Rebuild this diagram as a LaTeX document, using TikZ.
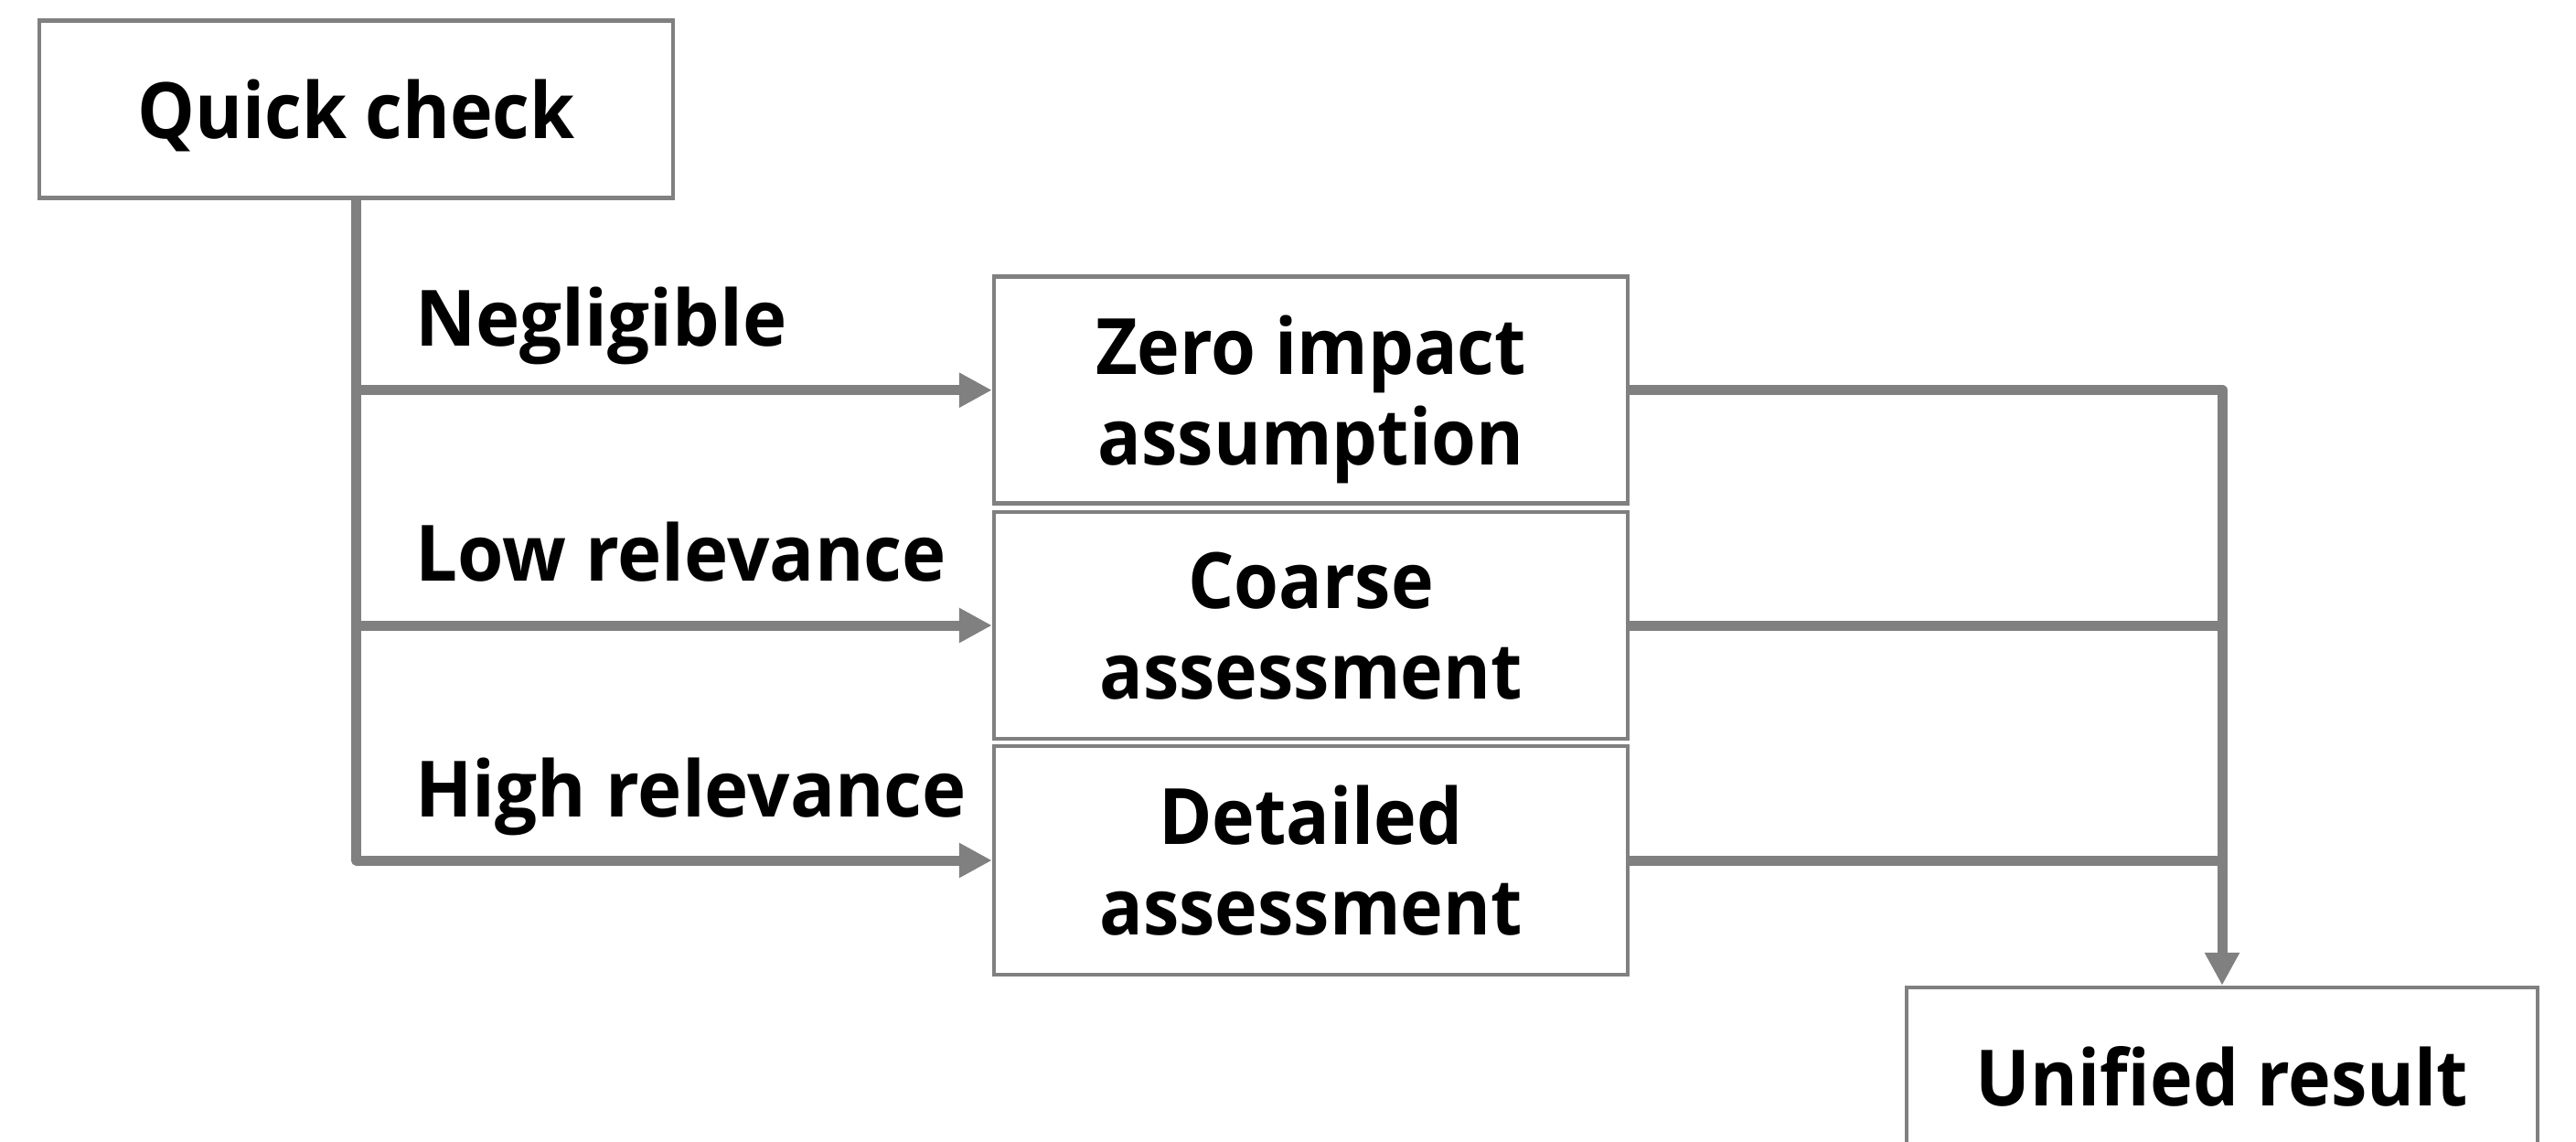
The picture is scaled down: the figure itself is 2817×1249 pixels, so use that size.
\documentclass[tikz,border=0pt]{standalone}
\usepackage{fontspec}
\setmainfont[FakeStretch=0.93]{Open Sans}
\newfontfamily\lblfont[FakeStretch=0.96]{Open Sans}
\usetikzlibrary{arrows.meta}
\definecolor{linegray}{HTML}{808080}
\tikzset{
  box/.style={draw=linegray, line width=4.5pt, fill=white, minimum width=693pt, inner sep=0pt,
    align=center, text depth=0pt, font=\fontsize{85}{99}\selectfont\bfseries},
  conn/.style={draw=linegray, line width=11pt, line join=round},
  tip/.style={-{Triangle[length=36pt,width=36pt]}},
  lbl/.style={anchor=base west, inner sep=0pt, font=\lblfont\fontsize{85}{99}\selectfont\bfseries}
}
\begin{document}
\begin{tikzpicture}[x=1pt,y=-1pt]
\useasboundingbox (0,0) rectangle (2817,1249);
\node[box, minimum height=194pt] (qc) at (389.5,119.3) {Quick check};
\node[box, minimum height=248pt] (zero) at (1433.5,426.7) {Zero impact\\assumption};
\node[box, minimum height=248pt] (coarse) at (1433.5,684) {Coarse\\assessment};
\node[box, minimum height=250pt] (det) at (1433.5,941) {Detailed\\assessment};
\node[box, minimum width=690pt, minimum height=194pt] (ur) at (2430,1177) {Unified result};
\coordinate (lb) at (qc.south |- det.west);
\coordinate (l1) at (qc.south |- zero.west);
\coordinate (l2) at (qc.south |- coarse.west);
\coordinate (rt) at (ur.north |- zero.east);
\coordinate (r2) at (ur.north |- coarse.east);
\coordinate (r3) at (ur.north |- det.east);
\draw[conn, tip] (qc.south) -- (lb) -- (det.west);
\draw[conn, tip] (l1) -- (zero.west);
\draw[conn, tip] (l2) -- (coarse.west);
\draw[conn, tip] (zero.east) -- (rt) -- (ur.north);
\draw[conn] (coarse.east) -- (r2);
\draw[conn] (det.east) -- (r3);
\node[lbl] (n1) at (454,378) {Negligible};
\node[lbl] (n2) at (454,635) {Low relevance};
\node[lbl] (n3) at (454,893) {High relevance};
\end{tikzpicture}
\end{document}
